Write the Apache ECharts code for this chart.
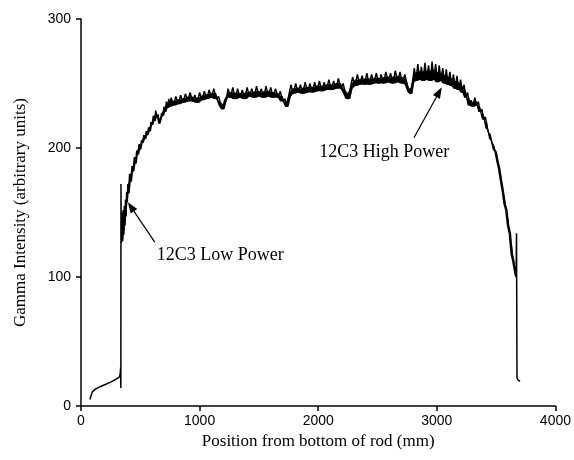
<!DOCTYPE html>
<html>
<head>
<meta charset="utf-8">
<script src="https://cdn.jsdelivr.net/npm/echarts@6/dist/echarts.min.js"></script>
<style>
html,body{margin:0;padding:0;background:#fff;}
#main{width:574px;height:460px;}
</style>
</head>
<body>
<div id="main"></div>
<script>
// axis ticks
var xTicks = [0, 1000, 2000, 3000, 4000];
var yTicks = [0, 100, 200, 300];

// low end before the step (mm, intensity)
var lowEnd = [[75,5],[88,5.5],[95,11],[100,12],[120,13],[150,14.5],[200,16.5],[250,18.5],[300,21],[325,22.5],[332,26],[334,30],[336,14],[337,172],[339,126]];

// main noisy profile
var profile = [
[340,126],[345,150],[350,128],[355,152],[360,133],[365,155],[370,140],[375,160],[380,147],[385,166],[390,158],[395,172],[400,165],[410,180],[420,174],[430,186],[440,182],[450,193],[460,188],[470,198],[480,195],[490,203],[500,199],[510,206],[520,204],[530,210],[540,207],[550,213],[560,210],[570,216],[580,213],[590,220],[600,218],[610,225],[620,221],[630,229],[640,224],[650,226],[660,219],[670,222],[680,227],[690,225],[700,232],[710,228],[720,236],[730,231],[740,238],[750,232],[760,239],[780,233],[800,240],[820,234],[840,241],[860,235],[880,242],[900,236],[920,243],[940,236],[960,241],[980,235],[1000,243],[1020,237],[1040,244],[1060,238],[1080,245],[1100,239],[1120,246],[1140,238],[1160,240],[1180,233],[1195,230],[1210,237],[1230,240],[1240,246],[1260,239],[1280,247],[1300,238],[1320,246],[1340,239],[1360,245],[1380,238],[1400,247],[1420,240],[1440,246],[1460,239],[1480,248],[1500,240],[1520,246],[1540,239],[1560,248],[1580,240],[1600,247],[1620,239],[1640,246],[1660,239],[1680,244],[1700,236],[1720,238],[1735,232],[1750,240],[1770,249],[1790,242],[1810,250],[1830,243],[1850,249],[1870,242],[1890,251],[1910,243],[1930,250],[1950,243],[1970,251],[1990,244],[2010,252],[2030,244],[2050,251],[2070,245],[2090,253],[2110,245],[2130,252],[2150,246],[2170,254],[2190,246],[2210,250],[2230,242],[2250,238],[2270,246],[2290,255],[2310,248],[2330,257],[2350,249],[2370,256],[2390,249],[2410,258],[2430,249],[2450,257],[2470,250],[2490,258],[2510,250],[2530,257],[2550,250],[2570,259],[2590,251],[2610,258],[2630,250],[2650,260],[2670,251],[2690,259],[2710,250],[2730,257],[2750,249],[2765,244],[2780,242],[2795,251],[2810,262],[2825,252],[2840,265],[2855,253],[2870,263],[2885,252],[2900,266],[2915,253],[2930,264],[2945,252],[2960,267],[2975,253],[2990,265],[3005,251],[3020,264],[3035,252],[3050,262],[3065,250],[3080,261],[3095,249],[3110,259],[3125,248],[3140,257],[3155,246],[3170,256],[3185,245],[3200,253],[3215,243],[3230,249],[3245,239],[3260,243],[3275,233],[3290,237],[3305,232],[3320,239],[3335,233],[3350,236],[3365,228],[3380,230],[3395,222],[3410,224],[3425,215],[3440,215],[3455,207],[3470,206],[3485,199],[3500,197],[3515,190],[3530,184],[3545,175],[3560,167],[3575,157],[3590,152],[3605,140],[3620,134],[3635,118],[3650,112],[3660,104],[3668,100],[3672,134],[3676,22],[3685,20],[3695,21],[3702,19]
];

// annotations: [tail, tip] and [x, y, text]
var lowArrow = [[622,127],[395,158]];
var highArrow = [[2807,208],[3042,247]];
var lowLabel = [639,117,'12C3 Low Power'];
var highLabel = [2008,197,'12C3 High Power'];

// solid core of the noisy band (local min up to part of the local spread), stops before the final drop
var bandLo = [], bandHi = [];
for (var i = 1; i < profile.length - 6; i++) {
    var a = profile[i-1][1], b = profile[i][1], c = profile[i+1][1];
    var lo = Math.min(a,b,c), hi = Math.max(a,b,c);
    bandLo.push([profile[i][0], lo]);
    bandHi.push([profile[i][0], lo + (hi-lo)*0.55]);
}

var myChart = echarts.init(document.getElementById('main'));
var serif = '"Liberation Serif","Times New Roman",serif';
var sans = '"Liberation Sans",Arial,sans-serif';

var option = {
    animation: false,
    backgroundColor: '#fff',
    grid: {left: 81, right: 18, top: 19, bottom: 54},
    xAxis: {
        type: 'value',
        min: xTicks[0], max: xTicks[xTicks.length-1], interval: 1000,
        name: 'Position from bottom of rod (mm)',
        nameLocation: 'middle', nameGap: 25,
        nameTextStyle: {fontFamily: serif, fontSize: 17, color: '#000'},
        axisLine: {show: true, lineStyle: {color: '#000', width: 1.5}},
        axisTick: {show: true, length: 5, lineStyle: {color: '#000', width: 1.5}},
        axisLabel: {fontFamily: sans, fontSize: 14, color: '#000', margin: 8,
            formatter: function(v){ return String(v); }},
        splitLine: {show: false}
    },
    yAxis: {
        type: 'value',
        min: yTicks[0], max: yTicks[yTicks.length-1], interval: 100,
        name: 'Gamma Intensity (arbitrary units)',
        nameLocation: 'middle', nameGap: 52,
        nameTextStyle: {fontFamily: serif, fontSize: 17, color: '#000'},
        axisLine: {show: true, lineStyle: {color: '#000', width: 1.5}},
        axisTick: {show: true, length: 5, lineStyle: {color: '#000', width: 1.5}},
        axisLabel: {fontFamily: sans, fontSize: 14, color: '#000', margin: 10,
            formatter: function(v){ return String(v); }},
        splitLine: {show: false}
    },
    series: [{
        type: 'custom',
        silent: true,
        data: [[bandLo[0][0], bandLo[0][1]]],
        renderItem: function(params, api) {
            var pts = [];
            for (var k = 0; k < bandHi.length; k++) pts.push(api.coord(bandHi[k]));
            for (var k = bandLo.length - 1; k >= 0; k--) pts.push(api.coord(bandLo[k]));
            return {type: 'polygon', shape: {points: pts}, style: {fill: '#000'}};
        }
    }, {
        type: 'line',
        data: lowEnd.concat(profile),
        showSymbol: false,
        lineStyle: {color: '#000', width: 1.5},
        markPoint: {
            silent: true,
            symbol: 'circle',
            symbolSize: 0,
            label: {
                show: true,
                position: 'right',
                distance: 0,
                fontFamily: serif,
                fontSize: 18,
                color: '#000',
                formatter: function(p){ return p.data.name; }
            },
            data: [
                {coord: [lowLabel[0], lowLabel[1]], name: lowLabel[2]},
                {coord: [highLabel[0], highLabel[1]], name: highLabel[2]}
            ]
        }
    }]
};
myChart.setOption(option);

// arrows drawn from data coordinates
function arrow(pair) {
    var p0 = myChart.convertToPixel({gridIndex: 0}, pair[0]);
    var p1 = myChart.convertToPixel({gridIndex: 0}, pair[1]);
    var dx = p1[0]-p0[0], dy = p1[1]-p0[1];
    var len = Math.sqrt(dx*dx+dy*dy), ux = dx/len, uy = dy/len;
    var hl = 11, hw = 4;
    var bx = p1[0]-ux*hl, by = p1[1]-uy*hl;
    return [{
        type: 'line', silent: true,
        shape: {x1: p0[0], y1: p0[1], x2: bx, y2: by},
        style: {stroke: '#000', lineWidth: 1.2}
    }, {
        type: 'polygon', silent: true,
        shape: {points: [[p1[0], p1[1]], [bx - uy*hw, by + ux*hw], [bx + uy*hw, by - ux*hw]]},
        style: {fill: '#000'}
    }];
}
myChart.setOption({graphic: arrow(lowArrow).concat(arrow(highArrow))});
</script>
</body>
</html>
